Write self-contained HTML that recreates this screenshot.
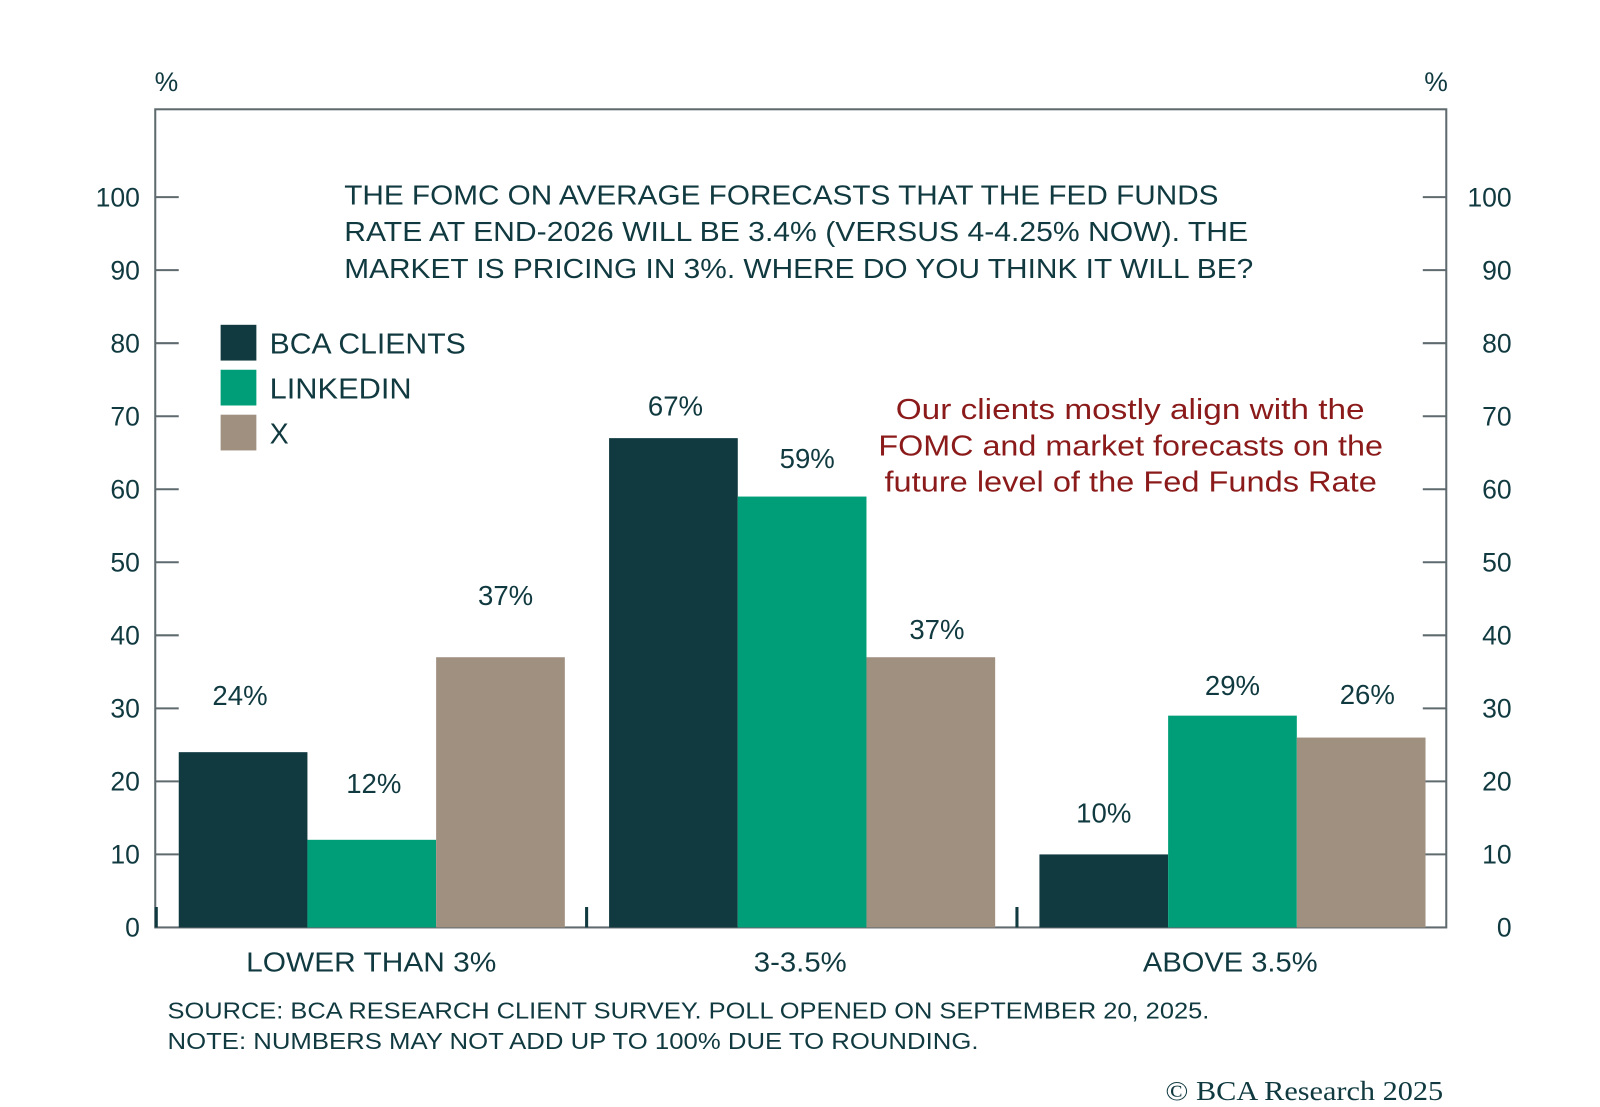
<!DOCTYPE html>
<html><head><meta charset="utf-8">
<style>
html,body{margin:0;padding:0;background:#fff;}
svg{display:block;font-family:"Liberation Sans",sans-serif;}
</style></head>
<body>
<svg id="chart" width="1600" height="1107" viewBox="0 0 1566.5 1083.8" preserveAspectRatio="none">
<rect x="152" y="107" width="1264" height="801" fill="none" stroke="#5f6a6e" stroke-width="2"/>
<text x="163" y="89" font-size="26" fill="#103a40" text-anchor="middle">%</text>
<text x="1406" y="89" font-size="26" fill="#103a40" text-anchor="middle">%</text>
<g id="axes"></g>
<g id="bars"></g>
<g id="labels"></g>
<g font-size="27" fill="#103a40">
<text x="337" y="200" textLength="856" lengthAdjust="spacingAndGlyphs">THE FOMC ON AVERAGE FORECASTS THAT THE FED FUNDS</text>
<text x="337" y="236" textLength="885" lengthAdjust="spacingAndGlyphs">RATE AT END-2026 WILL BE 3.4% (VERSUS 4-4.25% NOW). THE</text>
<text x="337" y="272" textLength="890" lengthAdjust="spacingAndGlyphs">MARKET IS PRICING IN 3%. WHERE DO YOU THINK IT WILL BE?</text>
</g>
<g>
<rect x="216" y="318" width="35" height="35" fill="#103a40"/>
<text x="264" y="346" font-size="28" fill="#103a40" textLength="192" lengthAdjust="spacingAndGlyphs">BCA CLIENTS</text>
<rect x="216" y="362" width="35" height="35" fill="#009e78"/>
<text x="264" y="390" font-size="28" fill="#103a40" textLength="139" lengthAdjust="spacingAndGlyphs">LINKEDIN</text>
<rect x="216" y="406" width="35" height="35" fill="#a09080"/>
<text x="264" y="434" font-size="28" fill="#103a40">X</text>
</g>
<g font-size="28" fill="#8b1a1a">
<text x="877" y="410" textLength="459" lengthAdjust="spacingAndGlyphs">Our clients mostly align with the</text>
<text x="860" y="446" textLength="494" lengthAdjust="spacingAndGlyphs">FOMC and market forecasts on the</text>
<text x="866" y="481" textLength="482" lengthAdjust="spacingAndGlyphs">future level of the Fed Funds Rate</text>
</g>
<text x="164" y="997" font-size="23" fill="#103a40" textLength="1020" lengthAdjust="spacingAndGlyphs">SOURCE: BCA RESEARCH CLIENT SURVEY. POLL OPENED ON SEPTEMBER 20, 2025.</text>
<text x="164" y="1027" font-size="23" fill="#103a40" textLength="794" lengthAdjust="spacingAndGlyphs">NOTE: NUMBERS MAY NOT ADD UP TO 100% DUE TO ROUNDING.</text>
<text x="1141" y="1077" font-size="27" fill="#103a40" textLength="272" lengthAdjust="spacingAndGlyphs" font-family="Liberation Serif, serif">© BCA Research 2025</text>
</svg>
<script>
const categories = ["LOWER THAN 3%", "3-3.5%", "ABOVE 3.5%"];
const bcaClients = [24, 67, 10];
const linkedin = [12, 59, 29];
const xPlatform = [37, 37, 26];
const yTicks = [0, 10, 20, 30, 40, 50, 60, 70, 80, 90, 100];
const seriesNames = ["bca", "linkedin", "x"];
const NS = "http://www.w3.org/2000/svg";
const left = 152, right = 1416, y0 = 908, y100 = 193;
function yScale(v){ return y0 - (v/100)*(y0 - y100); }
const groupW = (right - left) / categories.length;
function xGroup(i){ return left + i*groupW; }
function mk(tag, attrs, parent){ const e=document.createElementNS(NS,tag); for(const k in attrs) e.setAttribute(k, attrs[k]); parent.appendChild(e); return e; }
const axes = document.getElementById('axes');
yTicks.forEach(t=>{
  const y = yScale(t);
  if(t>0){
    const a = mk('line',{x1:left,x2:left+23,y1:y,y2:y,stroke:'#5f6a6e','stroke-width':2},axes);
    
    
    const b = mk('line',{x1:right-23,x2:right,y1:y,y2:y,stroke:'#5f6a6e','stroke-width':2},axes);
    
    
  }
  const l = mk('text',{x:137,y:y+9,'font-size':26,fill:'#103a40','text-anchor':'end'},axes);
  l.textContent = t;
  
  
  const r = mk('text',{x:1480,y:y+9,'font-size':26,fill:'#103a40','text-anchor':'end'},axes);
  r.textContent = t;
  
  
});
const catLabelX = [241, 738, 1119];
const catLabelW = [245, 91, 171];
categories.forEach((c,i)=>{
  const x = xGroup(i);
  const s = mk('line',{x1:x+1,x2:x+1,y1:y0-20,y2:y0,stroke:'#103a40','stroke-width':3},axes);
  
  
  const t = mk('text',{x:catLabelX[i],y:951,'font-size':27,fill:'#103a40',textLength:catLabelW[i],lengthAdjust:'spacingAndGlyphs'},axes);
  t.textContent = c;
  
  
});
const bars = document.getElementById('bars'), labels = document.getElementById('labels');
const series = [bcaClients, linkedin, xPlatform];
const colors = ["#103a40", "#009e78", "#a09080"];
// per-label layout nudges (style, not data)
const labelLift = [[24, 0, 9], [24, 6, -2], [29, -4, 11]];
const labelShift = [[-3, 2, 0], [2, 5, 0], [5, 6, 6]];
const barW = 126, pad = 23;
series.forEach((vals,s)=>{
  vals.forEach((v,i)=>{
    const x = xGroup(i)+pad+s*barW;
    const y = yScale(v);
    const r = mk('rect',{x:x,y:y,width:barW,height:y0-y,fill:colors[s]},bars);
    
    
    const t = mk('text',{x:x+barW/2+labelShift[s][i],y:y-22-labelLift[s][i],'font-size':27,fill:'#103a40','text-anchor':'middle'},labels);
    t.textContent = v+'%';
    
    
  });
});
</script>
</body></html>
